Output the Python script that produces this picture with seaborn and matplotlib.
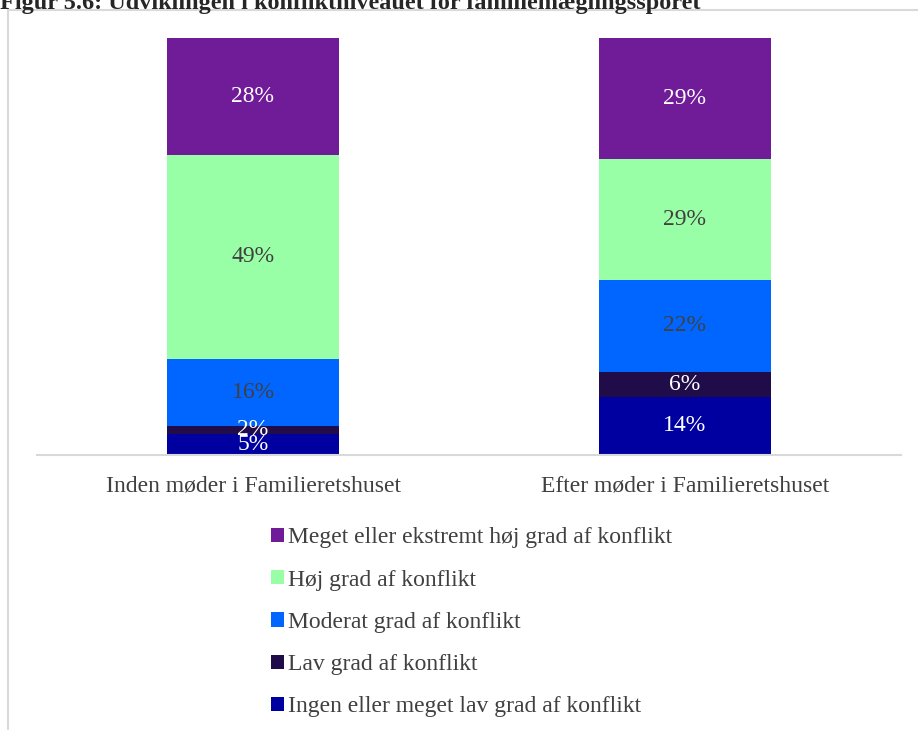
#!/usr/bin/env python3
"""Stacked bar chart: conflict level before/after meetings at Familieretshuset."""

import matplotlib.pyplot as plt
from matplotlib.patches import Patch, Rectangle
import numpy as np
import pandas as pd
import seaborn as sns

title = "Figur 5.6: Udviklingen i konfliktniveauet for familiemæglingssporet"
categories = ["Inden møder i Familieretshuset", "Efter møder i Familieretshuset"]

# stack order: bottom to top
series_names = [
	"Ingen eller meget lav grad af konflikt",
	"Lav grad af konflikt",
	"Moderat grad af konflikt",
	"Høj grad af konflikt",
	"Meget eller ekstremt høj grad af konflikt",
]
ingen = [5, 14]
lav = [2, 6]
moderat = [16, 22]
hoej = [49, 29]
meget = [28, 29]

colors = ["#0000A0", "#1F0C48", "#0066FF", "#99FFA6", "#701C98"]
label_colors = ["white", "white", "#404040", "#404040", "white"]

sns.set_theme(style="white")
plt.rcParams["font.family"] = ["Liberation Serif", "DejaVu Serif"]

fig = plt.figure(figsize=(9.18, 7.30), dpi=100)
W, H = 918, 730
ax = fig.add_axes([37 / W, 1 - 455 / H, (901 - 37) / W, (455 - 38) / H])

values = [ingen, lav, moderat, hoej, meget]
bottom = np.zeros(len(categories))
for name, vals, col, lc in zip(series_names, values, colors, label_colors):
	df = pd.DataFrame({"cat": categories, "val": vals})
	sns.barplot(data=df, x="cat", y="val", color=col, saturation=1, width=0.4,
				bottom=bottom, ax=ax, errorbar=None, linewidth=0)
	for i, v in enumerate(vals):
		ax.text(i, bottom[i] + v / 2, f"{v}%", ha="center", va="center",
				fontsize=17, color=lc)
	bottom = bottom + np.array(vals)

ax.set_xlim(-0.5, 1.5)
ax.set_ylim(0, 100)
ax.set_xlabel("")
ax.set_ylabel("")
ax.set_yticks([])
for s in ["top", "right", "left"]:
	ax.spines[s].set_visible(False)
ax.spines["bottom"].set_color("#D9D9D9")
ax.spines["bottom"].set_linewidth(1.5)
ax.tick_params(axis="x", length=0, pad=15, labelsize=17, labelcolor="#404040")

# chart frame
fig.patches.append(Rectangle((8 / W, -0.1), 1.2, 1 - 10 / H + 0.1, transform=fig.transFigure,
							 fill=False, edgecolor="#D9D9D9", linewidth=1.5))

handles = [Patch(facecolor=c, edgecolor="none") for c in colors][::-1]
fig.legend(handles, series_names[::-1], loc="upper left", bbox_to_anchor=(262 / W, 1 - 518 / H),
		   frameon=False, fontsize=17, labelcolor="#404040", handlelength=0.55, handleheight=0.55,
		   handletextpad=0.15, labelspacing=0.9, borderaxespad=0)

fig.text(0.0, 1 - 9 / H, title, fontsize=17.5, fontweight="bold", ha="left", va="baseline")

fig.savefig("out.png", dpi=100)
